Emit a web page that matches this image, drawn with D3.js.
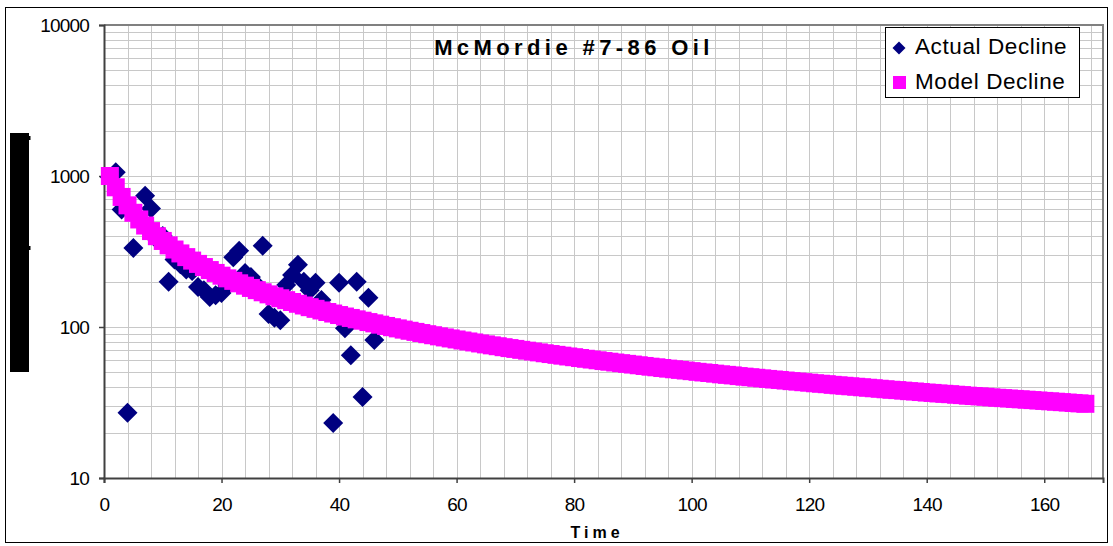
<!DOCTYPE html>
<html>
<head>
<meta charset="utf-8">
<script src="https://cdn.jsdelivr.net/npm/d3@7"></script>
<style>
  body { margin: 0; background: #fff; }
  svg { display: block; font-family: Arial, "Liberation Sans", sans-serif; }
</style>
</head>
<body>
<div id="chart"></div>
<script>
// actual monthly oil rates (time, rate)
const actualTime = [1, 2, 3, 4, 5, 6, 7, 8, 9, 10, 11, 12, 13, 14, 15, 16, 17, 18, 19, 20,
  21, 22, 23, 24, 25, 26, 27, 28, 29, 30, 31, 32, 33, 34, 35, 36, 37, 38, 39, 40,
  41, 42, 43, 44, 45, 46];
const actualRate = [980, 1060, 600, 27, 334, 520, 740, 610, 380, 400, 199, 280, 260, 240, 235, 184, 175, 158, 162, 168,
  190, 290, 320, 228, 214, 190, 345, 122, 115, 111, 190, 221, 258, 199, 175, 196, 151, 130, 23.1, 196,
  98, 65, 199, 34.4, 156, 82];

// model decline, one value per month starting at month 1
const modelRate = [
  1000.0, 841.7, 726.7, 639.3, 570.7, 515.4, 469.9, 431.7, 399.3, 371.4,
  347.2, 325.9, 307.1, 290.3, 275.3, 261.7, 249.5, 238.3, 228.1, 218.7,
  210.0, 202.1, 194.7, 187.8, 181.4, 175.4, 169.8, 164.5, 159.6, 155.0,
  150.6, 146.4, 142.5, 138.8, 135.3, 131.9, 128.7, 125.7, 122.8, 120.0,
  117.3, 114.8, 112.4, 110.1, 107.8, 105.7, 103.6, 101.6, 99.7, 97.9,
  96.1, 94.4, 92.8, 91.2, 89.6, 88.2, 86.7, 85.3, 84.0, 82.7,
  81.4, 80.2, 79.0, 77.8, 76.7, 75.6, 74.6, 73.5, 72.5, 71.6,
  70.6, 69.7, 68.8, 67.9, 67.0, 66.2, 65.4, 64.6, 63.8, 63.1,
  62.3, 61.6, 60.9, 60.2, 59.5, 58.9, 58.2, 57.6, 57.0, 56.4,
  55.8, 55.2, 54.6, 54.1, 53.5, 53.0, 52.5, 52.0, 51.5, 51.0,
  50.5, 50.0, 49.6, 49.1, 48.6, 48.2, 47.8, 47.3, 46.9, 46.5,
  46.1, 45.7, 45.3, 44.9, 44.6, 44.2, 43.8, 43.5, 43.1, 42.8,
  42.4, 42.1, 41.8, 41.4, 41.1, 40.8, 40.5, 40.2, 39.9, 39.6,
  39.3, 39.0, 38.7, 38.4, 38.2, 37.9, 37.6, 37.4, 37.1, 36.8,
  36.6, 36.3, 36.1, 35.9, 35.6, 35.4, 35.1, 34.9, 34.7, 34.5,
  34.2, 34.0, 33.8, 33.6, 33.4, 33.2, 33.0, 32.8, 32.6, 32.4,
  32.2, 32.0, 31.8, 31.6, 31.4, 31.2, 31.0
];

const xTicks = [0, 20, 40, 60, 80, 100, 120, 140, 160];
const yTicks = [10, 100, 1000, 10000];
const seriesNames = ["Actual Decline", "Model Decline"];

const W = 1113, H = 546;
const svg = d3.select("#chart").append("svg").attr("width", W).attr("height", H);

// outer chart frame
svg.append("rect").attr("x", 5.5).attr("y", 7.5).attr("width", 1102).attr("height", 535)
  .attr("fill", "#fff").attr("stroke", "#000").attr("stroke-width", 1);

const x = d3.scaleLinear().domain([0, 170]).range([104, 1103]);
const y = d3.scaleLog().domain([10, 10000]).range([478, 25]);

// grid
const grid = svg.append("g").attr("stroke", "#c8c8c8").attr("stroke-width", 1);
grid.selectAll("line.v").data(d3.range(4, 170, 4)).enter().append("line")
  .attr("x1", d => Math.round(x(d)) + 0.5).attr("x2", d => Math.round(x(d)) + 0.5)
  .attr("y1", y(10000)).attr("y2", y(10));
grid.selectAll("line.h").data(y.ticks().filter(d => d > 10 && d < 10000)).enter().append("line")
  .attr("y1", d => Math.round(y(d)) + 0.5).attr("y2", d => Math.round(y(d)) + 0.5)
  .attr("x1", x(0)).attr("x2", x(170));

// top & right border of plot area
svg.append("path")
  .attr("d", `M${x(0)},${y(10000)}H${x(170)}V${y(10)}`)
  .attr("fill", "none").attr("stroke", "#808080").attr("stroke-width", 2);

// axes
const yAxis = svg.append("g").attr("transform", `translate(${x(0)},0)`)
  .call(d3.axisLeft(y).tickValues(yTicks).tickSize(5).tickPadding(10).tickFormat(d3.format("d")));
const xAxis = svg.append("g").attr("transform", `translate(0,${y(10)})`)
  .call(d3.axisBottom(x).tickValues(xTicks).tickSize(5).tickPadding(15));
[xAxis, yAxis].forEach(a => {
  a.select(".domain").attr("stroke", "#404040").attr("stroke-width", 2);
  a.selectAll(".tick line").attr("stroke", "#404040").attr("stroke-width", 1.5);
  a.selectAll("text").attr("font-size", 19).attr("fill", "#000")
    .attr("font-family", "Arial, 'Liberation Sans', sans-serif").attr("letter-spacing", -0.8);
});

// actual points (diamonds)
const dHalf = 10;
const diamond = `M0,${-dHalf}L${dHalf},0L0,${dHalf}L${-dHalf},0Z`;
svg.append("g").selectAll("path").data(actualTime).enter().append("path")
  .attr("d", diamond)
  .attr("transform", (d, i) => `translate(${x(d)},${y(actualRate[i])})`)
  .attr("fill", "#000080");

// model squares
const sq = 18;
svg.append("g").selectAll("rect").data(modelRate).enter().append("rect")
  .attr("x", (d, i) => x(i + 1) - sq / 2)
  .attr("y", d => y(d) - sq / 2)
  .attr("width", sq).attr("height", sq)
  .attr("fill", "#ff00ff");

// title
svg.append("text").attr("x", 574).attr("y", 55).attr("text-anchor", "middle")
  .attr("font-size", 22).attr("font-weight", "bold").attr("letter-spacing", 4.4)
  .text("McMordie #7-86 Oil");

// x axis title
svg.append("text").attr("x", 597).attr("y", 538).attr("text-anchor", "middle")
  .attr("font-size", 16).attr("font-weight", "bold").attr("letter-spacing", 4)
  .text("Time");

// y axis title block
svg.append("rect").attr("x", 10).attr("y", 133).attr("width", 19).attr("height", 239).attr("fill", "#000");
svg.append("rect").attr("x", 29).attr("y", 136).attr("width", 1.5).attr("height", 4).attr("fill", "#000");
svg.append("rect").attr("x", 29).attr("y", 246).attr("width", 1.5).attr("height", 4).attr("fill", "#000");

// legend
const lg = svg.append("g");
lg.append("rect").attr("x", 885.5).attr("y", 27.5).attr("width", 194).attr("height", 70)
  .attr("fill", "#fff").attr("stroke", "#000").attr("stroke-width", 1);
lg.append("path").attr("d", `M0,-6.5L6.5,0L0,6.5L-6.5,0Z`)
  .attr("transform", "translate(899,48)").attr("fill", "#000080");
lg.append("rect").attr("x", 893).attr("y", 76).attr("width", 13).attr("height", 13).attr("fill", "#ff00ff");
lg.selectAll("text").data(seriesNames).enter().append("text")
  .attr("x", 915).attr("y", (d, i) => 54 + i * 35)
  .attr("font-size", 22.5).attr("letter-spacing", 0.6)
  .text(d => d);
</script>
</body>
</html>
